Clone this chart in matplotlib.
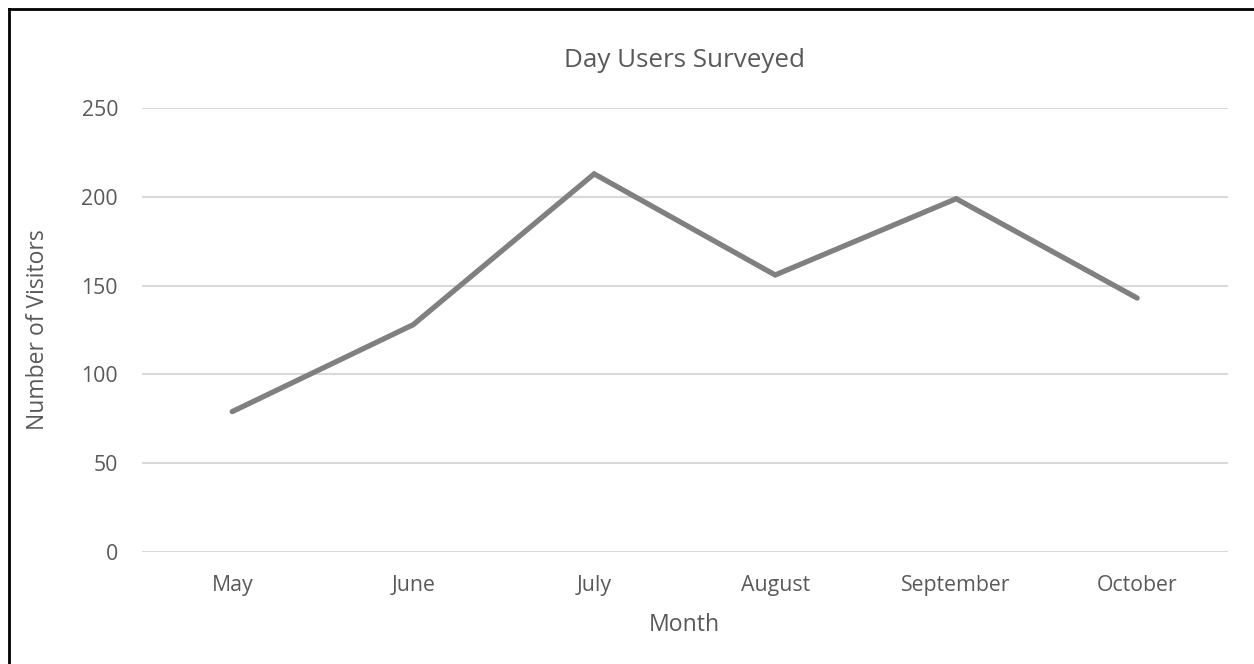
import matplotlib
matplotlib.use("Agg")
from matplotlib import pyplot as plt
from matplotlib.lines import Line2D

months = ["May", "June", "July", "August", "September", "October"]
visitors = [79, 128, 213, 156, 199, 143]
y_ticks = [0, 50, 100, 150, 200, 250]

TEXT = "#595959"
GRID = "#d9d9d9"
LINE = "#808080"

plt.rcParams["font.family"] = ["Open Sans", "DejaVu Sans"]

fig = plt.figure(figsize=(12.54, 6.64), dpi=100)
ax = fig.add_axes([0.113, 0.169, 0.866, 0.668])

x = list(range(len(months)))
ax.plot(x, visitors, color=LINE, linewidth=3.8, solid_capstyle="round", solid_joinstyle="miter", zorder=3)

ax.set_xlim(-0.5, len(months) - 0.5)
ax.set_ylim(0, 250)
ax.set_yticks(y_ticks)
ax.set_xticks(x)
ax.set_xticklabels(months)
ax.yaxis.grid(True, color=GRID, linewidth=1.5)
ax.set_axisbelow(True)
for s in ax.spines.values():
    s.set_visible(False)
ax.tick_params(axis="both", length=0, labelsize=15.3, colors=TEXT)
ax.tick_params(axis="x", pad=17)
ax.tick_params(axis="y", pad=17)

ax.set_title("Day Users Surveyed", fontsize=18.7, color=TEXT, pad=30)
ax.set_xlabel("Month", fontsize=16.6, color=TEXT, labelpad=12)
ax.set_ylabel("Number of Visitors", fontsize=16.5, color=TEXT, labelpad=23)

# frame lines of the picture
fig.add_artist(Line2D([0.0068, 0.0068], [0, 0.987], transform=fig.transFigure, color="black", linewidth=2))
fig.add_artist(Line2D([0.0068, 1.0], [0.987, 0.987], transform=fig.transFigure, color="black", linewidth=2))

fig.savefig("out.png", dpi=100)
